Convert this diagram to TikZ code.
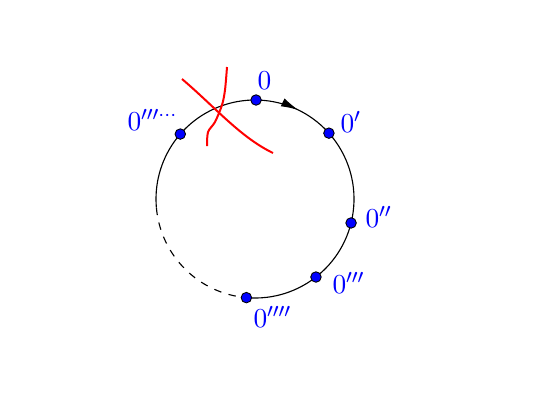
\documentclass[tikz,border=0pt]{standalone}
\usetikzlibrary{arrows.meta}
\begin{document}
\begin{tikzpicture}[x=0.4pt,y=0.4pt,
  dot/.style={circle,fill=blue,draw=black,line width=0.35pt,minimum size=4.2pt,inner sep=0pt},
  lab/.style={text=blue,anchor=base west,inner sep=0pt,font=\fontsize{11}{13}\selectfont},
  ring/.style={line width=0.45pt,black},
  redline/.style={red,line width=0.8pt}]
\useasboundingbox (0,0) rectangle (551,402);
\coordinate (c) at (255,203);
% circle
\draw[ring] ([shift={(-95:99)}]c) arc[start angle=-95,end angle=185,radius=99];
\draw[ring,dashed] ([shift={(185:99)}]c) arc[start angle=185,end angle=265,radius=99];
\draw[ring,-{Latex[length=7pt,width=3.5pt]}] ([shift={(72:99)}]c) arc[start angle=72,end angle=64,radius=99];
% red curves
\draw[redline] (182,323) .. controls (215,295) and (240,265) .. (273,249);
\draw[redline] plot[smooth] coordinates {(227,335) (225,312) (222,297) (215,280) (208,270) (207,256)};
% dots
\node[dot] (p0) at ([shift={(89.4:99)}]c) {};
\node[dot] (p1) at ([shift={(41.7:99)}]c) {};
\node[dot] (p2) at ([shift={(-14:99)}]c) {};
\node[dot] (p3) at ([shift={(-52:99)}]c) {};
\node[dot] (p4) at ([shift={(-95:99)}]c) {};
\node[dot] (p5) at ([shift={(139:99)}]c) {};
% labels
\node[lab] (l0) at (257,313) {$0$};
\node[lab] (l1) at (340,270) {$0^{\prime}$};
\node[lab] (l2) at (365,175) {$0^{\prime\prime}$};
\node[lab] (l3) at (332,109) {$0^{\prime\prime\prime}$};
\node[lab] (l4) at (253,75) {$0^{\prime\prime\prime\prime}$};
\node[lab] (l5) at (127,272) {$0^{\prime\prime\prime\cdots}$};
\end{tikzpicture}
\end{document}
